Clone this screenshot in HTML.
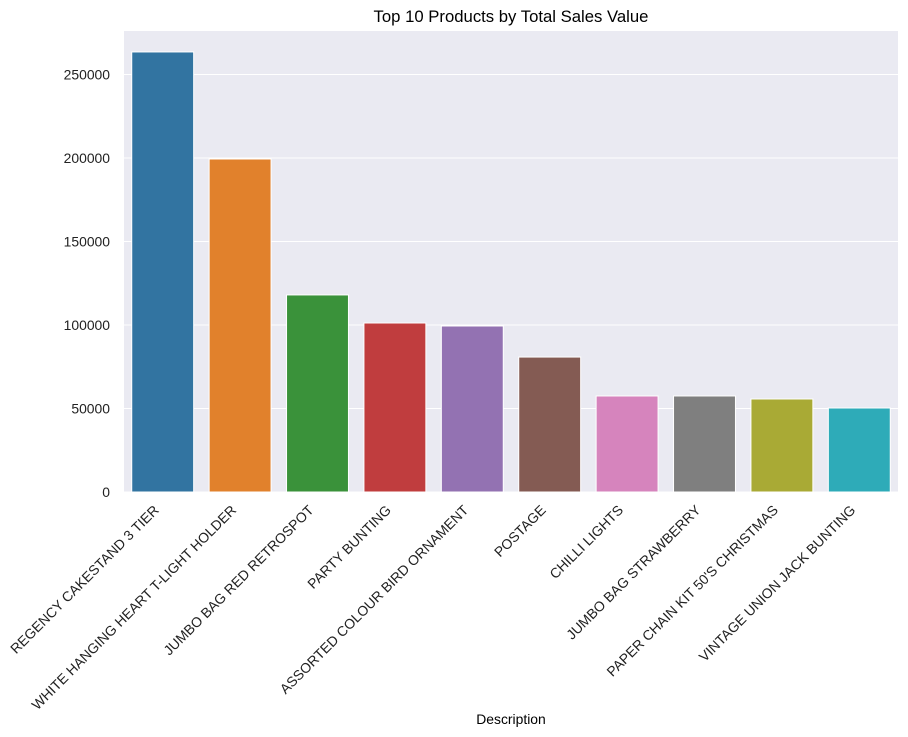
<!DOCTYPE html>
<html><head><meta charset="utf-8"><style>
body{margin:0;background:#fff;}
svg{display:block;font-family:"Liberation Sans",sans-serif;}
</style></head><body>
<svg id="chart" width="908" height="737">
<rect x="124" y="31" width="774" height="461" fill="#eaeaf2"/>
<g id="grid"></g><g id="bars"></g><g id="yticks"></g><g id="xticks"></g>
<text x="511" y="22" text-anchor="middle" font-size="16.7" fill="#000">Top 10 Products by Total Sales Value</text>
<text x="511" y="724" text-anchor="middle" font-size="13.9" fill="#000">Description</text>
</svg>
<script>
const categories=["REGENCY CAKESTAND 3 TIER","WHITE HANGING HEART T-LIGHT HOLDER","JUMBO BAG RED RETROSPOT","PARTY BUNTING","ASSORTED COLOUR BIRD ORNAMENT","POSTAGE","CHILLI LIGHTS","JUMBO BAG STRAWBERRY","PAPER CHAIN KIT 50'S CHRISTMAS","VINTAGE UNION JACK BUNTING"];
const values=[263500,199400,118000,101200,99400,80800,57500,57500,55700,50300];
const colors=["#3274a1","#e1812c","#3a923a","#c03d3e","#9372b2","#845b53","#d684bd","#7f7f7f","#a9aa35","#2eabb8"];
const yTicks=[0,50000,100000,150000,200000,250000];
const NS="http://www.w3.org/2000/svg";
const x0=124,x1=898,yBase=492,pxPer=83.5/50000;
const band=(x1-x0)/categories.length;
const y=v=>yBase-v*pxPer;
const xc=i=>x0+band*(i+0.5);
function mk(t,a,p){const e=document.createElementNS(NS,t);for(const k in a)e.setAttribute(k,a[k]);p.appendChild(e);return e;}
const G=document.getElementById('grid'),B=document.getElementById('bars'),YT=document.getElementById('yticks'),XT=document.getElementById('xticks');
yTicks.forEach(t=>{
 const l=mk('line',{x1:x0,x2:x1,y1:y(t),y2:y(t),stroke:'#fff','stroke-width':1},G);
 
 
 const tx=mk('text',{x:x0-14,y:y(t)+5,'text-anchor':'end','font-size':13.9,fill:'#222'},YT);
 tx.textContent=t;
 
 
});
values.forEach((v,i)=>{
 const w=band*0.8;
 const r=mk('rect',{x:xc(i)-w/2,y:y(v),width:w,height:yBase-y(v),fill:colors[i],stroke:'#fff','stroke-width':1},B);
 
 
 const tx=mk('text',{x:0,y:0,'text-anchor':'end','font-size':13.9,fill:'#222',transform:`translate(${xc(i)-3},${yBase+19}) rotate(-45)`},XT);
 tx.textContent=categories[i];
 
 
});
</script>
</body></html>
